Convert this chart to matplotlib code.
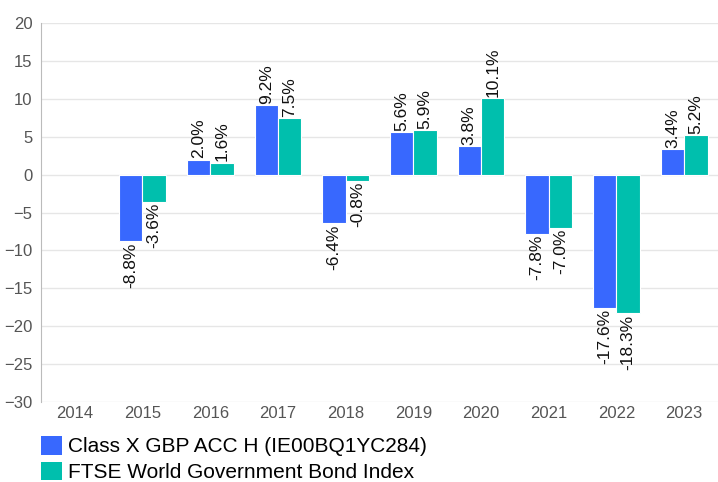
import matplotlib
matplotlib.use("Agg")
import matplotlib.pyplot as plt
import numpy as np
from matplotlib.patches import Patch

years = ["2014", "2015", "2016", "2017", "2018", "2019", "2020", "2021", "2022", "2023"]
fund = [None, -8.8, 2.0, 9.2, -6.4, 5.6, 3.8, -7.8, -17.6, 3.4]
index = [None, -3.6, 1.6, 7.5, -0.8, 5.9, 10.1, -7.0, -18.3, 5.2]
series_names = ["Class X GBP ACC H (IE00BQ1YC284)", "FTSE World Government Bond Index"]
colors = ["#3868fe", "#00bfad"]

plt.rcParams['font.family'] = ['Liberation Sans', 'DejaVu Sans']
fig = plt.figure(figsize=(7.18, 4.82), dpi=100)
ax = fig.add_axes([0.057, 0.166, 0.943, 0.786])

x = np.arange(len(years))
w = 0.345
for k, (vals, c) in enumerate(zip([fund, index], colors)):
    off = (k - 0.5) * w
    for i, v in enumerate(vals):
        if v is None:
            continue
        ax.bar(x[i] + off, v, w, color=c, edgecolor="white", linewidth=0.8, zorder=3)
        if v >= 0:
            ax.text(x[i] + off, v + 0.15, f"{v:.1f}%", rotation=90, ha="center", va="bottom",
                    fontsize=12.5, color="#111111", zorder=4)
        else:
            ax.text(x[i] + off, v - 0.15, f"{v:.1f}%", rotation=90, ha="center", va="top",
                    fontsize=12.5, color="#111111", zorder=4)

ax.set_xlim(-0.5, len(years) - 0.5)
ax.set_ylim(-30, 20)
ax.set_yticks(range(-30, 21, 5))
ax.set_xticks(x)
ax.set_xticklabels(years)
ax.tick_params(axis="both", length=0, labelsize=12, colors="#555555")
ax.tick_params(axis="x", pad=3)
ax.tick_params(axis="y", pad=6)
ax.grid(axis="y", color="#e6e6e6", linewidth=1, zorder=0)
for s in ["top", "right", "bottom"]:
    ax.spines[s].set_visible(False)
ax.spines["left"].set_color("#bbbbbb")

handles = [Patch(facecolor=c, edgecolor="none") for c in colors]
fig.legend(handles, series_names, loc="lower left", bbox_to_anchor=(41 / 718, 0.0),
           frameon=False, fontsize=15, handlelength=1.0, handleheight=1.0,
           handletextpad=0.3, labelspacing=0.25, borderpad=0.0, borderaxespad=0.0)

fig.savefig("out.png", dpi=100)
